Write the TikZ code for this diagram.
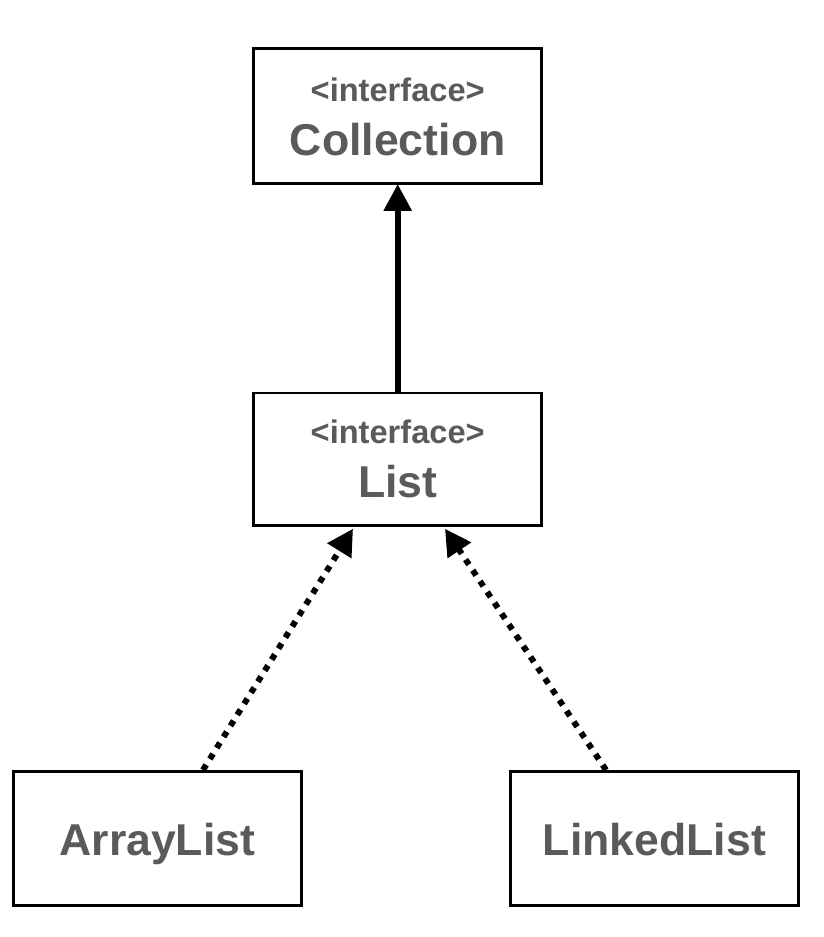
\documentclass[tikz,border=0pt]{standalone}
\usepackage{fontspec}
\setmainfont{Liberation Sans}
\usetikzlibrary{arrows.meta,calc}
\definecolor{txtgrey}{HTML}{5A5A5A}
\tikzset{
  umlbox/.style={draw=black, line width=2.6pt, fill=white, inner sep=0pt, minimum width=288pt},
  stereo/.style={text=txtgrey, font=\fontsize{32.6}{36}\selectfont\bfseries, inner sep=0pt, anchor=base},
  title/.style={text=txtgrey, font=\fontsize{44.6}{50}\selectfont\bfseries, inner sep=0pt, anchor=base},
  inherit/.style={line width=6pt, -{Triangle[length=27pt,width=27pt]}},
  realize/.style={line width=6pt, dash pattern=on 6pt off 7pt, -{Triangle[length=26pt,width=27pt]}}
}
\begin{document}
\begin{tikzpicture}[x=1pt,y=1pt]
\useasboundingbox (0,0) rectangle (823,937);
% boxes
\node[umlbox, minimum height=135pt] (coll) at (397.7,820.8) {};
\node[umlbox, minimum height=132.5pt] (list) at (397.7,477.8) {};
\node[umlbox, minimum height=134pt] (al) at (157.4,98.7) {};
\node[umlbox, minimum height=134pt] (ll) at (654.4,98.7) {};
% texts
\node[stereo] (collst) at (397.7,835.3) {<interface>};
\node[title] (colltx) at (397.7,781) {Collection};
\node[stereo] (listst) at (397.7,493) {<interface>};
\node[title] (listtx) at (397.7,439.7) {List};
\node[title] (altx) at (157.4,81.3) {ArrayList};
\node[title] (lltx) at (654.4,81.8) {LinkedList};
% connectors
\draw[inherit, shorten >=-1pt] (list.north) -- (coll.south);
\draw[realize] ([xshift=45.6pt]al.north) -- ([xshift=-44.7pt,yshift=-2pt]list.south);
\draw[realize] ([xshift=-48.4pt]ll.north) -- ([xshift=47.3pt,yshift=-2pt]list.south);
\end{tikzpicture}
\end{document}
